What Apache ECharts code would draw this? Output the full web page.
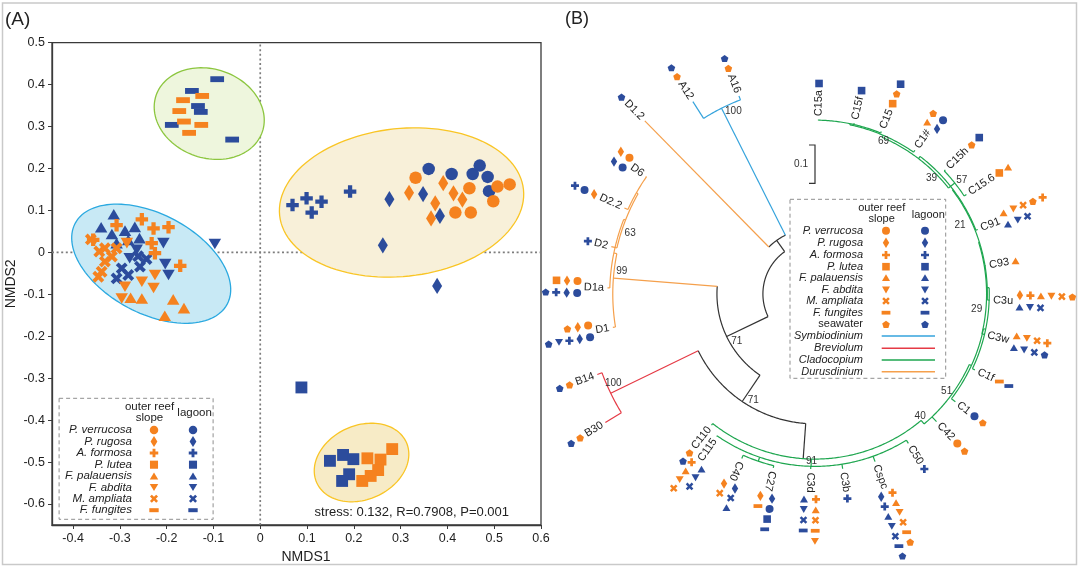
<!DOCTYPE html>
<html><head><meta charset="utf-8">
<script src="https://cdn.jsdelivr.net/npm/echarts@6/dist/echarts.min.js"></script>
<style>html,body{margin:0;padding:0;background:#fff}#c{width:1080px;height:569px}</style>
</head><body><div id="c"></div><script>
// ---------------- DATA: panel A (NMDS) ----------------
const xTicks = [-0.4,-0.3,-0.2,-0.1,0,0.1,0.2,0.3,0.4,0.5,0.6];
const yTicks = [-0.6,-0.5,-0.4,-0.3,-0.2,-0.1,0,0.1,0.2,0.3,0.4,0.5];
const speciesNames = ['P. verrucosa','P. rugosa','A. formosa','P. lutea','F. palauensis','F. abdita','M. ampliata','F. fungites'];
const speciesKeys = ['Pv','Pr','Af','Pl','Fp','Fa','Ma','Ff'];
const statText = 'stress: 0.132, R=0.7908, P=0.001';

const outerPv = [[0.332,0.178],[0.447,0.153],[0.507,0.157],[0.533,0.162],[0.498,0.122],[0.417,0.095],[0.450,0.095]];
const outerPr = [[0.318,0.142],[0.391,0.165],[0.374,0.117],[0.413,0.141],[0.432,0.126],[0.365,0.081]];
const outerAf = [[-0.253,0.079],[-0.228,0.057],[-0.196,0.060],[-0.171,-0.032],[-0.357,0.030],[-0.307,0.065],[-0.232,0.022],[-0.225,-0.002]];
const outerPl = [[0.229,-0.491],[0.257,-0.494],[0.282,-0.469],[0.252,-0.519],[0.236,-0.533],[0.218,-0.545]];
const outerFp = [[-0.277,-0.108],[-0.253,-0.110],[-0.186,-0.112],[-0.163,-0.133],[-0.204,-0.151]];
const outerFa = [[-0.289,-0.082],[-0.296,-0.110],[-0.253,-0.070],[-0.225,-0.054],[-0.228,-0.085],[-0.285,0.022]];
const outerMa = [[-0.362,0.031],[-0.344,0.002],[-0.332,-0.022],[-0.339,-0.046],[-0.317,-0.010],[-0.307,0.010],[-0.332,0.010],[-0.346,-0.058]];
const outerFf = [[-0.165,0.363],[-0.124,0.373],[-0.173,0.337],[-0.163,0.312],[-0.126,0.304],[-0.152,0.285]];
const lagoonPv = [[0.360,0.199],[0.409,0.187],[0.454,0.187],[0.469,0.207],[0.486,0.180],[0.489,0.146]];
const lagoonPr = [[0.276,0.127],[0.262,0.017],[0.348,0.139],[0.384,0.087],[0.378,-0.080]];
const lagoonAf = [[0.069,0.113],[0.099,0.129],[0.131,0.121],[0.110,0.095],[0.192,0.145]];
const lagoonPl = [[0.149,-0.497],[0.177,-0.483],[0.199,-0.493],[0.190,-0.529],[0.175,-0.545],[0.088,-0.322]];
const lagoonFp = [[-0.313,0.091],[-0.340,0.060],[-0.317,0.044],[-0.289,0.052],[-0.268,0.061],[-0.258,0.034],[-0.307,0.022],[-0.282,0.030]];
const lagoonFa = [[-0.207,0.022],[-0.097,0.020],[-0.196,-0.054],[-0.203,-0.028],[-0.264,0.006],[-0.279,-0.014]];
const lagoonMa = [[-0.296,-0.038],[-0.257,-0.034],[-0.243,-0.016],[-0.261,-0.009],[-0.282,-0.054],[-0.307,-0.062]];
const lagoonFf = [[-0.092,0.413],[-0.146,0.385],[-0.133,0.349],[-0.127,0.335],[-0.189,0.304],[-0.060,0.269]];

// ellipses (centre in data units, semi-axes in x-data units, rotation deg)
const ellCx = [-0.109,-0.233,0.302,0.2165];
const ellCy = [0.331,-0.027,0.119,-0.501];
const ellA = [0.120,0.184,0.262,0.105];
const ellB = [0.095,0.106,0.158,0.079];
const ellRot = [19,28,-6.1,-24.3];

// ---------------- DATA: panel B (tree) ----------------
const leafNames = ['A12','A16','D1.2','D6','D2.2','D2','D1a','D1','B14','B30','C110','C115','C40','C27','C3d','C3b','Cspc','C50','C42','C1','C1f','C3w','C3u','C93','C91','C15.6','C15h','C1#','C15','C15f','C15a'];
const leafAngle = [237.6,249,225.5,214.8,204.3,193.1,181.7,170.6,159.7,148.5,128.3,124.6,114,103.5,91.4,81,70.3,58,46.4,37.5,25.4,13.4,2,-9.4,-21.6,-33.3,-43.6,-55.2,-67.8,-77.1,-88.9];
const leafTip = [0.595,0.554,0.634,0.538,0.546,0.546,0.542,0.535,0.606,0.642,0.436,0.452,0.470,0.467,0.457,0.462,0.465,0.460,0.460,0.462,0.462,0.454,0.456,0.452,0.457,0.473,0.470,0.457,0.458,0.458,0.455];
const leafMarks = [
 [['o:sw','l:sw']],[['o:sw','l:sw']],[['l:sw']],
 [['o:Pv','o:Pr'],['l:Pv','l:Pr']],
 [['o:Pr','l:Pv','l:Af']],[['l:Af']],
 [['o:Pv','o:Pr','o:Pl'],['l:Pv','l:Pr','l:Af','l:sw']],
 [['o:Pv','o:Pr','o:sw'],['l:Pv','l:Pr','l:Af','l:Fa','l:sw']],
 [['o:sw','l:sw']],[['o:sw','l:sw']],[['o:sw','l:sw']],
 [['o:Af','o:Fp','o:Fa','o:Ma'],['l:Fp','l:Fa','l:Ma']],
 [['o:Pr','o:Ma'],['l:Pr','l:Ma','l:Fp']],
 [['o:Pr','o:Ff'],['l:Pr','l:Pv','l:Pl','l:Ff']],
 [['o:Af','o:Fp','o:Ma','o:Ff','o:Fa'],['l:Fp','l:Fa','l:Ma','l:Ff']],
 [['l:Af']],
 [['o:Af','o:Fp','o:Fa','o:Ma','o:Ff','o:sw'],['l:Pr','l:Af','l:Fp','l:Fa','l:Ma','l:Ff','l:sw']],
 [['l:Af']],[['o:Pv','o:sw']],[['l:Pv','o:sw']],[['o:Ff','l:Ff']],
 [['o:Fp','o:Fa','o:Ma','o:Af'],['l:Fp','l:Fa','l:Ma','l:sw']],
 [['o:Pr','o:Af','o:Fp','o:Fa','o:Ma','o:sw'],['l:Fp','l:Fa','l:Ma']],
 [['o:Fp']],
 [['o:Fp','o:Fa','o:Ma','o:sw','o:Af'],['l:Fp','l:Fa','l:Ma']],
 [['o:Pl','o:Fp']],[['o:sw','l:Pl']],
 [['o:Fp','o:sw'],['l:Pr','l:Pv']],
 [['o:Pl','o:sw','l:Pl']],[['l:Pl']],[['l:Pl']]
];
const nodeName = ['root','S0','Symb','Up71','Dur','NDa','N63','ND','BC71','Brev','Clado','NL','N4027','NR','N51','N1f','N29','N3u','N21','N39','N57','N69','NC15'];
const nodeR = [0.136,0.172,0.543,0.256,0.528,0.536,0.531,0.536,0.339,0.593,0.431,0.450,0.461,0.443,0.449,0.455,0.448,0.450,0.452,0.445,0.466,0.451,0.454];
const nodeKids = [['Up71','S0'],['D1.2','Symb'],['A12','A16'],['BC71','Dur'],['D1','NDa'],['D1a','N63'],['D2','ND'],['D2.2','D6'],['Brev','Clado'],['B14','B30'],['C110','NL','NR'],['C115','N4027','C3d','C3b','Cspc','C50'],['C40','C27'],['C42','N51'],['C1','N1f'],['C1f','N29'],['C3w','N3u'],['C3u','C93','N21'],['C91','N39'],['N57','N69'],['C15.6','C15h'],['C1#','NC15'],['C15','C15f','C15a']];
const nodeGenus = ['backbone','backbone','Symbiodinium','backbone','Durusdinium','Durusdinium','Durusdinium','Durusdinium','backbone','Breviolum','Cladocopium','Cladocopium','Cladocopium','Cladocopium','Cladocopium','Cladocopium','Cladocopium','Cladocopium','Cladocopium','Cladocopium','Cladocopium','Cladocopium','Cladocopium'];
const nodeFixedAngle = {Dur:184.5, Clado:94.1, NR:50};
const stemOverride = {Clado:'backbone'};
const bsText = ['100','63','99','71','71','100','91','40','51','29','21','39','57','69'];
const bsR = [0.522,0.508,0.508,0.239,0.320,0.576,0.437,0.422,0.427,0.424,0.419,0.429,0.485,0.436];
const bsAng = [245.9,198.2,186.6,148.6,120.2,156.1,91.2,49.4,36.4,5.4,-25.4,-44.8,-37.8,-65.8];
const genusNames = ['Symbiodinium','Breviolum','Cladocopium','Durusdinium'];
const scaleBar = {r: 0.289, len: 0.1, angle: -90, label: '0.1'};

// ---------------- STYLE ----------------
const ORANGE = '#f5821f', BLUE = '#2c4c9c';
const FONT = "'Liberation Sans', Arial, Helvetica, sans-serif";
const genusColor = {Symbiodinium:'#35a3dc', Breviolum:'#e53a45', Cladocopium:'#1ea64f', Durusdinium:'#f5a04c', backbone:'#333333'};
const SYM = {
  Pv:'M5,0A5,5,0,1,1,5,10A5,5,0,1,1,5,0Z',
  Pr:'M5,0L10,5L5,10L0,5Z',
  Af:'M3.3,0H6.7V3.3H10V6.7H6.7V10H3.3V6.7H0V3.3H3.3Z',
  Pl:'M0,0H10V10H0Z',
  Fp:'M5,0L10,10L0,10Z',
  Fa:'M0,0H10L5,10Z',
  Ma:'M2.3,0L5,2.7L7.7,0L10,2.3L7.3,5L10,7.7L7.7,10L5,7.3L2.3,10L0,7.7L2.7,5L0,2.3Z',
  Ff:'M0,0H10V10H0Z',
  sw:'M5,0L10,3.8L8.1,10H1.9L0,3.8Z'
};
const SYM_POLY = {
  Pr:[[5,0],[10,5],[5,10],[0,5]],
  Af:[[3.3,0],[6.7,0],[6.7,3.3],[10,3.3],[10,6.7],[6.7,6.7],[6.7,10],[3.3,10],[3.3,6.7],[0,6.7],[0,3.3],[3.3,3.3]],
  Fp:[[5,0],[10,10],[0,10]],
  Fa:[[0,0],[10,0],[5,10]],
  Ma:[[2.3,0],[5,2.7],[7.7,0],[10,2.3],[7.3,5],[10,7.7],[7.7,10],[5,7.3],[2.3,10],[0,7.7],[2.7,5],[0,2.3]],
  sw:[[5,0],[10,3.8],[8.1,10],[1.9,10],[0,3.8]]
};
const SYM_WH = {Pv:[1,1],Pr:[0.8,1.3],Af:[1,1],Pl:[0.95,0.95],Fp:[1,0.85],Fa:[1,0.85],Ma:[0.95,0.95],Ff:[1.1,0.47],sw:[0.95,0.9]};
const RAD = Math.PI/180;
const mctx = document.createElement('canvas').getContext('2d');
function textW(t, size){ mctx.font = size + 'px ' + FONT; return mctx.measureText(t).width; }
function symEl(k, cx, cy, s, color){
  const w = s*SYM_WH[k][0], h = s*SYM_WH[k][1];
  if (k === 'Pv') return {type:'circle', silent:true, shape:{cx:cx, cy:cy, r:w/2}, style:{fill:color}};
  if (k === 'Pl' || k === 'Ff') return {type:'rect', silent:true, shape:{x:cx-w/2, y:cy-h/2, width:w, height:h}, style:{fill:color}};
  const pts = SYM_POLY[k].map(p=>[cx - w/2 + p[0]/10*w, cy - h/2 + p[1]/10*h]);
  return {type:'polygon', silent:true, shape:{points:pts}, style:{fill:color}};
}
function gText(t, x, y, size, align, italic){
  return {type:'text', x:x, y:y, silent:true, style:{text:t, fill:'#222', font:(italic?'italic ':'') + size + 'px ' + FONT, align:align, textAlign:align, verticalAlign:'middle', textVerticalAlign:'middle'}};
}

// ---------------- tree geometry ----------------
const leafIdx = {}; leafNames.forEach((n,i)=>leafIdx[n]=i);
const nodeIdx = {}; nodeName.forEach((n,i)=>nodeIdx[n]=i);
const angCache = {};
function genusOf(n){ return {A:'Symbiodinium',B:'Breviolum',C:'Cladocopium',D:'Durusdinium'}[n[0]]; }
function angOf(n){
  if (n in leafIdx) return leafAngle[leafIdx[n]];
  if (angCache[n] !== undefined) return angCache[n];
  let a;
  if (nodeFixedAngle[n] !== undefined) a = nodeFixedAngle[n];
  else { const ks = nodeKids[nodeIdx[n]].map(angOf); a = (Math.min(...ks)+Math.max(...ks))/2; }
  angCache[n] = a; return a;
}
function rOf(n){ return (n in leafIdx) ? leafTip[leafIdx[n]] : nodeR[nodeIdx[n]]; }
function stemColor(n){
  if (n in leafIdx) return genusColor[genusOf(n)];
  if (stemOverride[n]) return genusColor[stemOverride[n]];
  return genusColor[nodeGenus[nodeIdx[n]]];
}
const treeSegs = [];
nodeName.forEach((n,i)=>{
  const r = nodeR[i], ks = nodeKids[i];
  const as = ks.map(angOf).concat([angOf(n)]);
  treeSegs.push({kind:'arc', r:r, a0:Math.min(...as), a1:Math.max(...as), color:genusColor[nodeGenus[i]]});
  ks.forEach(k=>treeSegs.push({kind:'radial', r:r, a:angOf(k), r0:r, r1:rOf(k), color:stemColor(k)}));
});

// ---------------- graphics (titles, legends, frame) ----------------
const gEls = [];
gEls.push({type:'rect', silent:true, shape:{x:2.5,y:3,width:1074,height:561.5}, style:{fill:'none', stroke:'#c9c9c9', lineWidth:1.5}});
gEls.push(gText('(A)', 5, 20, 19, 'left', false));
gEls.push(gText('(B)', 565, 19, 18, 'left', false));
gEls.push(gText(statText, 314.6, 512.8, 13, 'left', false));
// legend A
gEls.push({type:'rect', silent:true, shape:{x:59.1,y:398.3,width:154,height:121}, style:{fill:'none', stroke:'#8f8f8f', lineWidth:1, lineDash:[4,3]}});
gEls.push(gText('outer reef', 149.5, 406.7, 11.5, 'center', false));
gEls.push(gText('slope', 149.5, 417.7, 11.5, 'center', false));
gEls.push(gText('lagoon', 194.6, 413.3, 11.5, 'center', false));
const legAy = [430,441.5,453,464.7,476,487.5,498.7,510.2];
speciesNames.forEach((s,i)=>{
  gEls.push(gText(s, 132, legAy[i], 11.5, 'right', true));
  gEls.push(symEl(speciesKeys[i], 154, legAy[i], 8.5, ORANGE));
  gEls.push(symEl(speciesKeys[i], 193, legAy[i], 8.5, BLUE));
});
// legend B
gEls.push({type:'rect', silent:true, shape:{x:790,y:199.3,width:155.7,height:179}, style:{fill:'none', stroke:'#8f8f8f', lineWidth:1, lineDash:[4,3]}});
gEls.push(gText('outer reef', 881.7, 208.3, 11, 'center', false));
gEls.push(gText('slope', 881.7, 219.3, 11, 'center', false));
gEls.push(gText('lagoon', 928.3, 215, 11, 'center', false));
const legBy = [230.7,242.7,255,266.7,277.7,290,301,312.7,324.3,336,348.3,360,371.7];
speciesNames.concat(['seawater']).forEach((s,i)=>{
  const k = i < speciesKeys.length ? speciesKeys[i] : 'sw';
  gEls.push(gText(s, 863, legBy[i], 11, 'right', s !== 'seawater'));
  gEls.push(symEl(k, 886, legBy[i], 8, ORANGE));
  gEls.push(symEl(k, 925, legBy[i], 8, BLUE));
});
genusNames.forEach((g,i)=>{
  const y = legBy[9+i];
  gEls.push(gText(g, 863, y, 11, 'right', true));
  gEls.push({type:'line', silent:true, shape:{x1:881.7,y1:y,x2:935,y2:y}, style:{stroke:genusColor[g], lineWidth:1.6}});
});

// ---------------- series ----------------
const scatterGroups = [
  ['l','Pv',lagoonPv],['o','Pv',outerPv],['l','Pr',lagoonPr],['o','Pr',outerPr],
  ['l','Af',lagoonAf],['l','Pl',lagoonPl],['o','Pl',outerPl],
  ['l','Fp',lagoonFp],['o','Ma',outerMa],['l','Ma',lagoonMa],['o','Af',outerAf],
  ['o','Fa',outerFa],['l','Fa',lagoonFa],['o','Fp',outerFp],
  ['l','Ff',lagoonFf],['o','Ff',outerFf]
];
const ellStyle = [
  {fill:'#eef6dd', stroke:'#8cc63f'},
  {fill:'#c8e9f5', stroke:'#2ba9e0'},
  {fill:'#f8f0d9', stroke:'#f9c525'},
  {fill:'#f7ebc6', stroke:'#f9c525'}
];
const series = [];
series.push({type:'custom', coordinateSystem:'cartesian2d', z:1, silent:true,
  data:[[0,0,0],[0,0,1]],
  renderItem:(p,api)=>{
    const vert = api.value(2) === 0;
    const a = vert ? api.coord([0,-0.65]) : api.coord([-0.445,0]);
    const b = vert ? api.coord([0,0.5]) : api.coord([0.6,0]);
    return {type:'line', shape:{x1:a[0],y1:a[1],x2:b[0],y2:b[1]}, style:{stroke:'#7d7d7d', lineWidth:1.7, lineDash:[2,2.6]}};
  }});
series.push({type:'custom', coordinateSystem:'cartesian2d', z:2, silent:true,
  data: ellCx.map((c,i)=>[c, ellCy[i], i]),
  renderItem:(p,api)=>{
    const i = api.value(2);
    const c = api.coord([ellCx[i], ellCy[i]]);
    const k = api.size([1,0])[0];
    const a = ellA[i]*k, b = ellB[i]*k, th = ellRot[i]*RAD;
    const pts = [];
    for (let t=0; t<360; t+=3){
      const u = a*Math.cos(t*RAD), v = b*Math.sin(t*RAD);
      pts.push([c[0] + u*Math.cos(th) - v*Math.sin(th), c[1] + u*Math.sin(th) + v*Math.cos(th)]);
    }
    return {type:'polygon', shape:{points:pts}, style:{fill:ellStyle[i].fill, stroke:ellStyle[i].stroke, lineWidth:1.3}};
  }});
scatterGroups.forEach(g=>{
  const k = g[1], s = 12.5;
  series.push({type:'scatter', z:3, silent:true, data:g[2], symbol:'path://'+SYM[k],
    symbolSize:[s*SYM_WH[k][0], s*SYM_WH[k][1]], itemStyle:{color: g[0]==='o'?ORANGE:BLUE, opacity:1}});
});
series.push({type:'custom', coordinateSystem:'polar', polarIndex:0, z:3, silent:true,
  data: treeSegs.map((s,i)=>[s.r, s.kind==='arc'?s.a0:s.a, i]),
  encode:{radius:0, angle:1},
  renderItem:(p,api)=>{
    const s = treeSegs[api.value(2)];
    let pts = [];
    if (s.kind === 'arc'){
      const n = Math.max(2, Math.ceil((s.a1-s.a0)/0.5));
      for (let j=0;j<=n;j++){ pts.push(api.coord([s.r, s.a0 + (s.a1-s.a0)*j/n])); }
    } else {
      pts = [api.coord([s.r0, s.a]), api.coord([s.r1, s.a])];
    }
    return {type:'polyline', shape:{points:pts}, style:{stroke:s.color, lineWidth:1.2, fill:null}};
  }});
const LEAF_FS = 11;
series.push({type:'custom', coordinateSystem:'polar', polarIndex:0, z:4, silent:true,
  data: leafNames.map((n,i)=>[leafTip[i], leafAngle[i], i]),
  encode:{radius:0, angle:1},
  renderItem:(p,api)=>{
    const i = api.value(2);
    const ang = leafAngle[i], name = leafNames[i];
    const P = api.coord([leafTip[i], ang]);
    const O = api.coord([0, ang]);
    const dx = P[0]-O[0], dy = P[1]-O[1], L = Math.hypot(dx,dy);
    const ux = dx/L, uy = dy/L;
    const outward = ang >= -90 && ang <= 120;
    const gap = 3.5;
    const ch = [];
    const rot = outward ? -ang*RAD : -(ang+180)*RAD;
    ch.push({type:'text', x:P[0]+ux*gap, y:P[1]+uy*gap, rotation:rot,
      style:{text:name, fill:'#222', font:LEAF_FS+'px '+FONT, align:outward?'left':'right', textAlign:outward?'left':'right', verticalAlign:'middle', textVerticalAlign:'middle'}});
    const w = textW(name, LEAF_FS);
    const side = (ang >= -90 && ang <= 95) ? ang-90 : ang+90;
    const sx = Math.cos(side*RAD), sy = Math.sin(side*RAD);
    const rows = leafMarks[i];
    rows.forEach((row, ri)=>{
      const off = rows.length === 1 ? 0 : (ri === 0 ? 6 : -6);
      row.forEach((m, j)=>{
        const site = m[0], key = m.slice(2);
        const d = gap + w + 6.5 + j*10.5;
        ch.push(symEl(key, P[0]+ux*d+sx*off, P[1]+uy*d+sy*off, 8, site==='o'?ORANGE:BLUE));
      });
    });
    return {type:'group', children:ch};
  }});
series.push({type:'custom', coordinateSystem:'polar', polarIndex:0, z:5, silent:true,
  data: bsText.map((t,i)=>[bsR[i], bsAng[i], i]),
  encode:{radius:0, angle:1},
  renderItem:(p,api)=>{
    const i = api.value(2);
    const c = api.coord([bsR[i], bsAng[i]]);
    return {type:'text', x:c[0], y:c[1], style:{text:bsText[i], fill:'#333', font:'10px '+FONT, align:'center', textAlign:'center', verticalAlign:'middle', textVerticalAlign:'middle'}};
  }});
series.push({type:'custom', coordinateSystem:'polar', polarIndex:0, z:5, silent:true,
  data:[[scaleBar.r, scaleBar.angle, 0]],
  encode:{radius:0, angle:1},
  renderItem:(p,api)=>{
    const a = api.coord([scaleBar.r, scaleBar.angle]);
    const b = api.coord([scaleBar.r + scaleBar.len, scaleBar.angle]);
    return {type:'group', children:[
      {type:'polyline', shape:{points:[[a[0]-6,a[1]],a,b,[b[0]-6,b[1]]]}, style:{stroke:'#333', lineWidth:1.2, fill:null}},
      {type:'text', x:a[0]-7, y:(a[1]+b[1])/2, style:{text:scaleBar.label, fill:'#333', font:'10px '+FONT, align:'right', textAlign:'right', verticalAlign:'middle', textVerticalAlign:'middle'}}
    ]};
  }});

const axisCol = '#3a3a3a';
const option = {
  animation:false,
  backgroundColor:'#ffffff',
  textStyle:{fontFamily:FONT},
  grid:{left:52, top:42.7, width:489, height:485.3, show:true, borderColor:axisCol, borderWidth:1.3, backgroundColor:'rgba(0,0,0,0)'},
  xAxis:{type:'value', min:-0.445, max:0.6,
    axisLine:{show:true, onZero:false, lineStyle:{color:axisCol, width:1.3}},
    axisTick:{show:true, customValues:xTicks, length:4, lineStyle:{color:axisCol}},
    axisLabel:{customValues:xTicks, color:'#1e1e1e', fontSize:12.5, margin:7, fontFamily:FONT},
    splitLine:{show:false},
    name:'NMDS1', nameLocation:'middle', nameGap:25,
    nameTextStyle:{fontSize:14, color:'#1e1e1e', fontFamily:FONT, padding:[0,0,0,19]}},
  yAxis:{type:'value', min:-0.65, max:0.5,
    axisLine:{show:true, onZero:false, lineStyle:{color:axisCol, width:1.3}},
    axisTick:{show:true, customValues:yTicks, length:4, lineStyle:{color:axisCol}},
    axisLabel:{customValues:yTicks, color:'#1e1e1e', fontSize:12.5, margin:7, fontFamily:FONT},
    splitLine:{show:false},
    name:'NMDS2', nameLocation:'middle', nameGap:34, nameRotate:90,
    nameTextStyle:{fontSize:14, color:'#1e1e1e', fontFamily:FONT}},
  polar:{center:[815,294], radius:300},
  angleAxis:{type:'value', min:-100, max:260, startAngle:100, clockwise:true,
    axisLine:{show:false}, axisTick:{show:false}, axisLabel:{show:false}, splitLine:{show:false}, splitArea:{show:false}},
  radiusAxis:{type:'value', min:0, max:300/383,
    axisLine:{show:false}, axisTick:{show:false}, axisLabel:{show:false}, splitLine:{show:false}, splitArea:{show:false}},
  graphic:{elements:gEls},
  series:series
};
const chart = echarts.init(document.getElementById('c'), null, {renderer:'canvas'});
chart.setOption(option);
</script></body></html>
